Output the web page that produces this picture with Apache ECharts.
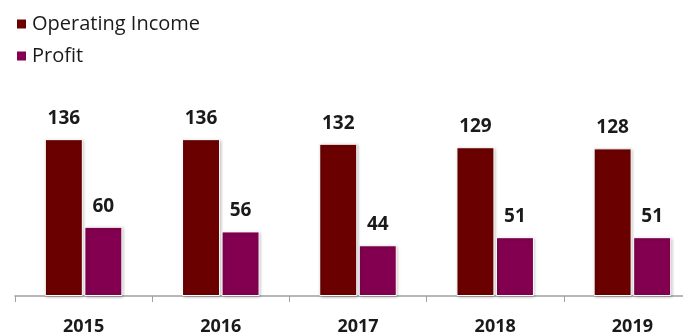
<!DOCTYPE html>
<html><head><meta charset="utf-8">
<script src="https://cdn.jsdelivr.net/npm/echarts@6/dist/echarts.min.js"></script>
<style>html,body{margin:0;padding:0;background:#fff}#c{width:683px;height:334px}</style>
</head><body><div id="c"></div>
<script>
const categories = ['2015','2016','2017','2018','2019'];
const operatingIncome = [136,136,132,129,128];
const profit = [60,56,44,51,51];

const chart = echarts.init(document.getElementById('c'));
const labelStyle = {show:true, position:'top', distance:11, fontFamily:'Open Sans', fontWeight:'bold', fontSize:19, color:'#1a1a1a'};
const itemBase = {borderColor:'#fff', borderWidth:1, shadowBlur:3, shadowColor:'rgba(0,0,0,0.25)', shadowOffsetX:1, shadowOffsetY:1};
chart.setOption({
  animation:false,
  legend:{orient:'vertical', left:10, top:9, itemWidth:11, itemHeight:11, itemGap:12, icon:'rect',
    textStyle:{fontFamily:'Open Sans', fontSize:20, color:'#1a1a1a'}},
  grid:{left:15, right:-18, top:123, bottom:38, containLabel:false, outerBoundsMode:'none'},
  xAxis:{type:'category', data:categories,
    axisLine:{lineStyle:{color:'#a0a0a0', width:1.5}},
    axisTick:{show:true, length:6, lineStyle:{color:'#a0a0a0'}},
    axisLabel:{margin:22, fontFamily:'Open Sans', fontWeight:'bold', fontSize:18, color:'#1a1a1a'}},
  yAxis:{type:'value', min:0, max:150, show:false, splitLine:{show:false}},
  series:[
    {name:'Operating Income', type:'bar', data:operatingIncome, barWidth:38, barGap:'4%',
      itemStyle:Object.assign({color:'#6B0000'}, itemBase), label:labelStyle},
    {name:'Profit', type:'bar', data:profit, barWidth:38,
      itemStyle:Object.assign({color:'#82004F'}, itemBase), label:labelStyle}
  ]
});
</script></body></html>
